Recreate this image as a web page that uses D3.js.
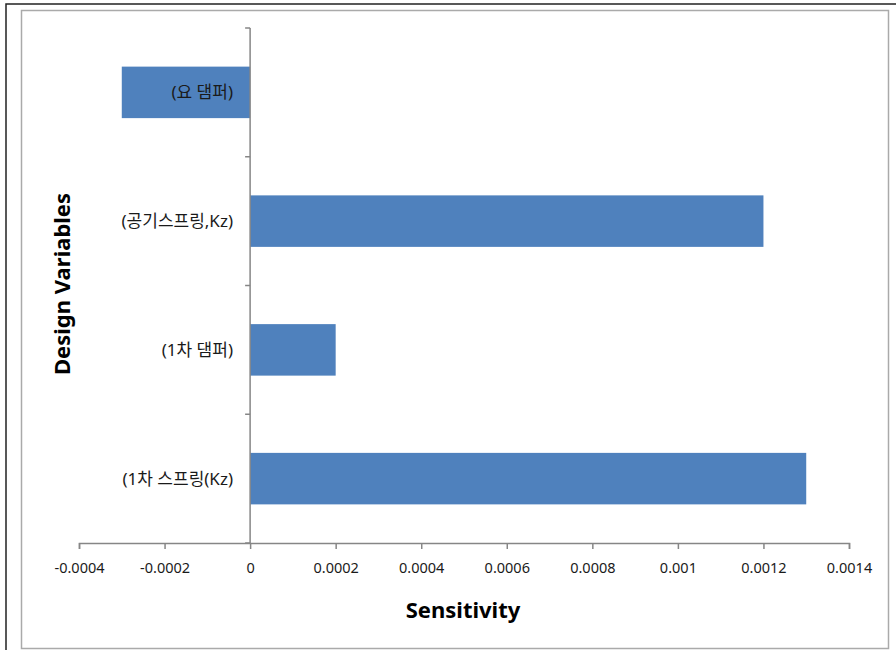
<!DOCTYPE html>
<html>
<head>
<meta charset="utf-8">
<script src="https://cdn.jsdelivr.net/npm/d3@7"></script>
<style>
  body { margin: 0; background: #fff; }
  text { font-family: "Noto Sans", "Noto Sans CJK KR", sans-serif; }
</style>
</head>
<body>
<svg id="canvas" width="896" height="650"></svg>
<script>
const CATEGORIES = ["(1차 스프링(Kz)", "(1차 댐퍼)", "(공기스프링,Kz)", "(요 댐퍼)"];
const VALUES = [0.0013, 0.0002, 0.0012, -0.0003];
const X_TICKS = [-0.0004, -0.0002, 0, 0.0002, 0.0004, 0.0006, 0.0008, 0.001, 0.0012, 0.0014];

let canvas = d3.select('#canvas')

// frames
canvas.append('rect')
    .attr('x', 6).attr('y', 4).attr('width', 900).attr('height', 660)
    .attr('fill', 'none').attr('stroke', '#222').attr('stroke-width', 1.5)
canvas.append('rect')
    .attr('x', 21.5).attr('y', 10.5).attr('width', 867).attr('height', 638)
    .attr('fill', '#fff').attr('stroke', '#aaa').attr('stroke-width', 1.5)

let xScale = d3.scaleLinear()
    .domain([-0.0004, 0.0014])
    .range([79, 849])

let yScale = d3.scaleBand()
    .domain(CATEGORIES.slice().reverse())
    .range([28, 543])
    .paddingInner(0.6)
    .paddingOuter(0.3)

let plot = canvas.append('g')

// bars
plot.selectAll('rect.bar')
    .data(CATEGORIES)
    .enter()
    .append('rect')
    .attr('class', 'bar')
    .attr('x', (d, i) => xScale(Math.min(0, VALUES[i])))
    .attr('y', d => yScale(d))
    .attr('width', (d, i) => Math.abs(xScale(VALUES[i]) - xScale(0)))
    .attr('height', yScale.bandwidth())
    .attr('fill', '#4f81bd')

// x axis
let xAxis = d3.axisBottom(xScale)
    .tickValues(X_TICKS)
    .tickFormat(d => d === 0 ? '0' : String(+d.toFixed(4)))
    .tickSize(6)
    .tickPadding(14)

let gx = canvas.append('g')
    .attr('transform', 'translate(0,543)')
    .call(xAxis)
gx.select('.domain').attr('stroke', '#868686').attr('stroke-width', 1.5)
gx.selectAll('.tick line').attr('stroke', '#868686').attr('stroke-width', 1.5)
gx.selectAll('.tick text')
    .attr('fill', '#1a1a1a')
    .style('font-size', '14.5px')

// y axis at zero with ticks between categories
let boundaries = d3.range(CATEGORIES.length + 1).map(i => 28 + i * (543 - 28) / CATEGORIES.length)
let gy = canvas.append('g')
gy.append('line')
    .attr('x1', xScale(0)).attr('x2', xScale(0))
    .attr('y1', 28).attr('y2', 543)
    .attr('stroke', '#868686').attr('stroke-width', 1.5)
gy.selectAll('line.ytick')
    .data(boundaries)
    .enter()
    .append('line')
    .attr('class', 'ytick')
    .attr('x1', xScale(0) - 5).attr('x2', xScale(0))
    .attr('y1', d => d).attr('y2', d => d)
    .attr('stroke', '#868686').attr('stroke-width', 1.5)

// category labels
canvas.selectAll('text.cat')
    .data(CATEGORIES)
    .enter()
    .append('text')
    .attr('class', 'cat')
    .attr('x', 233)
    .attr('y', d => yScale(d) + yScale.bandwidth() / 2)
    .attr('dy', '0.35em')
    .attr('text-anchor', 'end')
    .attr('fill', '#1a1a1a')
    .style('font-size', '17px')
    .text(d => d)

// axis titles
canvas.append('text')
    .attr('x', 463).attr('y', 618)
    .attr('text-anchor', 'middle')
    .style('font-size', '22px')
    .style('font-weight', 'bold')
    .text('Sensitivity')

canvas.append('text')
    .attr('transform', 'translate(70,284) rotate(-90)')
    .attr('text-anchor', 'middle')
    .style('font-size', '22px')
    .style('font-weight', 'bold')
    .text('Design Variables')
</script>
</body>
</html>
